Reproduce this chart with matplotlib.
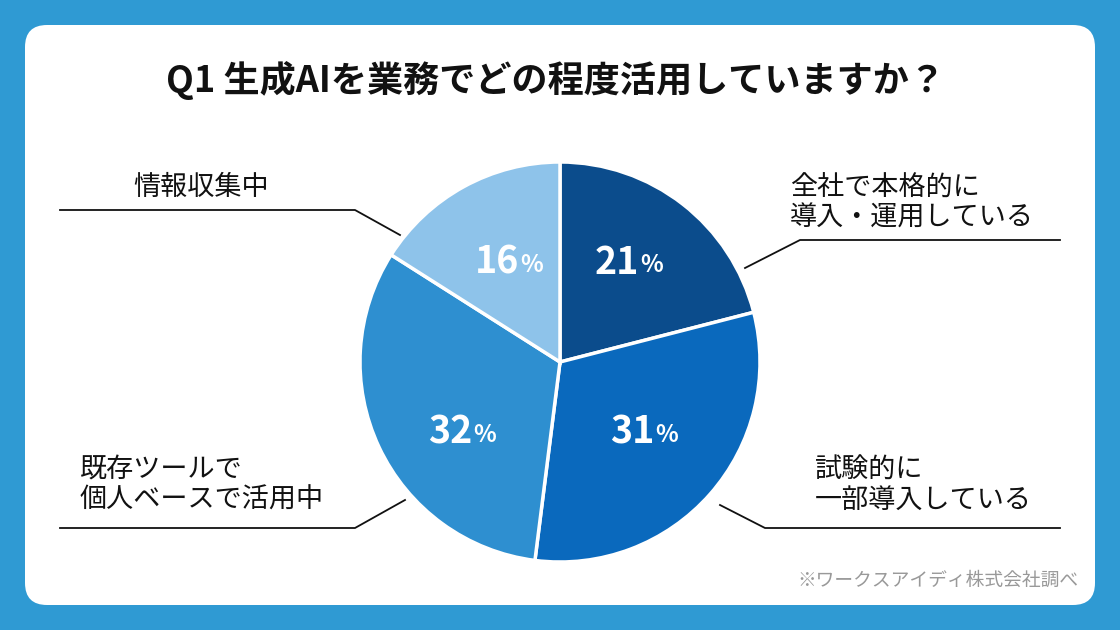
import numpy as np
import matplotlib.pyplot as plt
from matplotlib.patches import FancyBboxPatch

plt.rcParams['font.family'] = 'Noto Sans CJK JP'

# data
categories = ['全社で本格的に\n導入・運用している', '試験的に\n一部導入している',
              '既存ツールで\n個人ベースで活用中', '情報収集中']
values = [21, 31, 32, 16]
colors = ['#0b4c8c', '#0a69bd', '#2e8fd0', '#8ec3ea']

W, H = 1120, 630
fig = plt.figure(figsize=(11.2, 6.3), dpi=100)
fig.patch.set_facecolor('#2f9ad3')
ax = fig.add_axes([0, 0, 1, 1])
ax.set_xlim(0, W)
ax.set_ylim(0, H)
ax.set_aspect('equal')
ax.axis('off')

def Y(y):
    return H - y

# white card
ax.add_patch(FancyBboxPatch((25, Y(605)), 1070, 580,
                            boxstyle='round,pad=0,rounding_size=22',
                            fc='white', ec='none'))

ax.text(556, Y(80), 'Q1 生成AIを業務でどの程度活用していますか？', ha='center', va='center',
        fontsize=26, fontweight='bold', color='#111111')

# pie
cx, cy, r = 560, Y(362), 200
wedges, _ = ax.pie(values, colors=colors, startangle=90, counterclock=False,
                   center=(cx, cy), radius=r,
                   wedgeprops=dict(edgecolor='white', linewidth=2.5))
ax.set_xlim(0, W)
ax.set_ylim(0, H)

# percent labels
for w, v in zip(wedges, values):
    ang = np.deg2rad((w.theta1 + w.theta2) / 2)
    x = cx + 0.55 * r * np.cos(ang)
    y = cy + (0.5 * r if np.sin(ang) > 0 else -0.35 * r)
    ax.text(x + 12, y, str(v), ha='right', va='center', fontsize=27,
            fontweight='bold', color='white')
    ax.text(x + 13, y - 3, '%', ha='left', va='center', fontsize=17,
            fontweight='bold', color='white')

# leader lines and category labels
lw = 1.3
fs = 19.5
ax.plot([745, 800, 1060], [Y(268), Y(240), Y(240)], color='#111111', lw=lw)
ax.text(790, Y(203), categories[0], ha='left', va='center', fontsize=fs,
        linespacing=1.15, color='#111111')
ax.plot([720, 765, 1060], [Y(505), Y(528), Y(528)], color='#111111', lw=lw)
ax.text(815, Y(485), categories[1], ha='left', va='center', fontsize=fs,
        linespacing=1.15, color='#111111')
ax.plot([60, 355, 405], [Y(528), Y(528), Y(500)], color='#111111', lw=lw)
ax.text(80, Y(485), categories[2], ha='left', va='center', fontsize=fs,
        linespacing=1.15, color='#111111')
ax.plot([60, 355, 400], [Y(210), Y(210), Y(235)], color='#111111', lw=lw)
ax.text(133, Y(187), categories[3], ha='left', va='center', fontsize=fs,
        color='#111111')

ax.text(1078, Y(580), '※ワークスアイディ株式会社調べ', ha='right', va='center',
        fontsize=13.5, color='#999999')

fig.savefig('out.png', dpi=100, facecolor=fig.get_facecolor())
